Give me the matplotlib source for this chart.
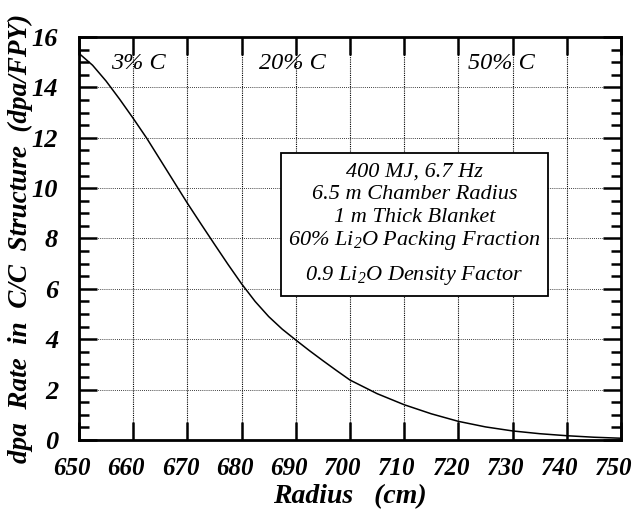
import numpy as np
import matplotlib.pyplot as plt
from matplotlib.ticker import MultipleLocator
from matplotlib.patches import Rectangle
import matplotlib.transforms as mtransforms

plt.rcParams['font.family'] = ['Liberation Serif', 'DejaVu Serif']
plt.rcParams['mathtext.fontset'] = 'custom'
plt.rcParams['mathtext.rm'] = 'Liberation Serif:italic'
plt.rcParams['mathtext.it'] = 'Liberation Serif:italic'

# curve
radius = [650, 652.5, 655, 657.5, 660, 662.5, 665, 667.5, 670, 672.5, 675,
          677.5, 680, 682.5, 685, 687.5, 690, 692.5, 695, 697.5, 700, 705,
          710, 715, 720, 725, 730, 735, 740, 745, 750]
dpa_rate = [15.35, 14.88, 14.25, 13.53, 12.77, 11.98, 11.12, 10.26, 9.40, 8.58, 7.77,
            6.97, 6.20, 5.50, 4.90, 4.40, 3.97, 3.55, 3.15, 2.76, 2.38, 1.84,
            1.40, 1.04, 0.74, 0.52, 0.36, 0.25, 0.17, 0.11, 0.07]

zone_labels = ['3% C', '20% C', '50% C']
zone_x = [661, 689.3, 728]

box_lines = ['400 MJ, 6.7 Hz', '6.5 m Chamber Radius', '1 m Thick Blanket',
             '60% Li$_2$O Packing Fraction', '0.9 Li$_2$O Density Factor']
box_line_y = [0.665, 0.608, 0.551, 0.496, 0.407]

fig = plt.figure(figsize=(6.36, 5.16), dpi=100)
ax = fig.add_axes([79/636, 1-440/516, 542/636, 403/516])

ax.plot(radius, dpa_rate, color='black', lw=1.1, zorder=3)

ax.set_xlim(650, 750)
ax.set_ylim(0, 16)
ax.xaxis.set_major_locator(MultipleLocator(10))
ax.yaxis.set_major_locator(MultipleLocator(2))
ax.yaxis.set_minor_locator(MultipleLocator(0.5))
ax.grid(True, axis='y', which='major', color='black', ls=(0, (1, 1.5)), lw=0.6)
ax.grid(True, axis='x', which='major', color='black', ls=(0, (1, 1)), lw=0.8)

ax.tick_params(which='both', direction='in', top=True, right=True, width=1.8)
ax.tick_params(which='major', length=13)
ax.tick_params(which='minor', length=7)
ax.tick_params(axis='y', labelsize=19, pad=15)
ax.tick_params(axis='x', labelsize=18, pad=12)
for lab in ax.get_xticklabels() + ax.get_yticklabels():
    lab.set_fontweight('bold')
    lab.set_fontstyle('italic')
# shift x tick labels a little to the left like the original
shift = mtransforms.ScaledTranslation(-7/100, 0, fig.dpi_scale_trans)
for lab in ax.get_xticklabels():
    lab.set_transform(lab.get_transform() + shift)
for sp in ax.spines.values():
    sp.set_linewidth(2)

fig.text(350/636, 1-497/516, 'Radius   (cm)', fontsize=20, fontweight='bold',
         style='italic', ha='center', va='center')
fig.text(20/636, 1-238/516, 'dpa  Rate  in  C/C  Structure  (dpa/FPY)', fontsize=19.5,
         fontweight='bold', style='italic', rotation=90, ha='center', va='center')

for lbl, xv in zip(zone_labels, zone_x):
    ax.text(xv, 14.95, lbl, fontsize=17.5, style='italic', ha='center', va='center')

ax.add_patch(Rectangle((0.373, 0.357), 0.492, 0.355, transform=ax.transAxes,
                       fc='white', ec='black', lw=1.3, zorder=4))
for line, yv in zip(box_lines, box_line_y):
    ax.text(0.619, yv, line, transform=ax.transAxes, fontsize=16, style='italic',
            ha='center', va='center', zorder=5)

fig.savefig('out.png', dpi=100)
